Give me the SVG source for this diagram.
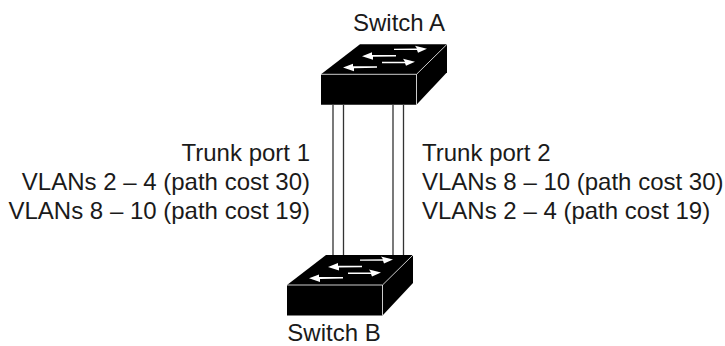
<svg xmlns="http://www.w3.org/2000/svg" width="725" height="346" viewBox="0 0 725 346">
<style>
text{font-family:"Liberation Sans",Arial,sans-serif;font-size:24px;fill:#1a1a1a}
.e{text-anchor:end}
.m{text-anchor:middle}
.ln{fill:none;stroke:#333;stroke-width:1.3}
.ar{fill:#fff}
</style>
<defs>
<g id="sw">
<path d="M0 0 L39 -30 L126 -30 L126 -2 L95.500 30.500 L0 30.500 Z" fill="#000"/>
<path d="M0 0 H95.500 V30.500 M95.500 0 L126 -30" fill="none" stroke="#fff" stroke-width="0.800"/>
<path class="ar" d="M73 -25.500 L96 -25.800 L94 -28.500 L106 -25.500 L97 -21.500 L96 -24.300 L73 -24.300 Z"/>
<path class="ar" d="M41 -18 L51 -22 L51 -19.300 L75 -19.300 L75 -17.800 L52 -17.500 L52 -14.500 Z"/>
<path class="ar" d="M61 -12.500 L84 -12.500 L82 -15.500 L94 -12.500 L85 -8.500 L84 -11 L61 -11 Z"/>
<path class="ar" d="M22 -6.800 L32 -10.500 L32 -8 L56 -8 L56 -6.500 L33 -6 L33 -3 Z"/>
</g>
</defs>
<g id="connectors">
<path class="ln" d="M333 105 V255 M343.500 105 V255 M393 105 V255 M403.500 105 V255"/>
</g>
<g id="switch-a">
<use href="#sw" x="321" y="74.300"/>
<text class="m" x="399" y="31">Switch A</text>
</g>
<g id="switch-b">
<use href="#sw" x="287" y="285"/>
<text class="m" x="334" y="341">Switch B</text>
</g>
<g id="trunk-port-1">
<text class="e" x="310" y="161">Trunk port 1</text>
<text class="e" x="310" y="190">VLANs 2 – 4 (path cost 30)</text>
<text class="e" x="310" y="219">VLANs 8 – 10 (path cost 19)</text>
</g>
<g id="trunk-port-2">
<text x="422" y="161">Trunk port 2</text>
<text x="422" y="190">VLANs 8 – 10 (path cost 30)</text>
<text x="422" y="219">VLANs 2 – 4 (path cost 19)</text>
</g>
</svg>
